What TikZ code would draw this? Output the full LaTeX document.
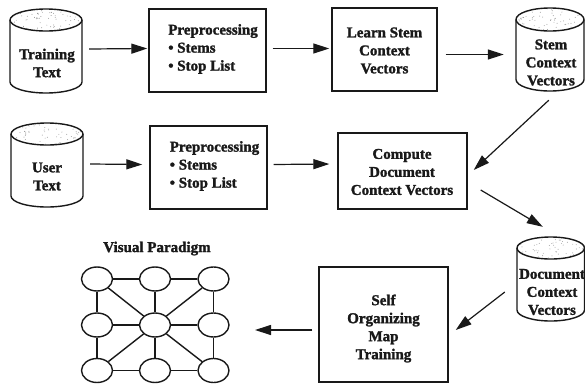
\documentclass[tikz,border=0pt]{standalone}
\usepackage{fontspec}
\setmainfont[BoldFeatures={FakeBold=1.6}]{Liberation Serif}
\usetikzlibrary{arrows.meta,shapes.geometric}
\tikzset{
  x=1pt,y=-1pt,
  outline/.style={draw=black!90,line width=1.4pt},
  boxnode/.style={outline,rectangle,inner sep=0pt,fill=white},
  txt/.style={font=\fontsize{15}{18}\bfseries\selectfont,align=center,inner sep=0pt,text=black!90},
  txtl/.style={txt,align=left},
  cylarea/.style={rectangle,inner sep=0pt,draw=none},
  arr/.style={draw=black!90,line width=1.2pt,-{Triangle[length=16pt,width=10pt]}},
  gridnode/.style={outline,ellipse,minimum width=31pt,minimum height=24pt,inner sep=0pt,fill=white},
  gridedge/.style={draw=black!90,line width=1.4pt}
}
% #1 left, #2 right, #3 top-ellipse top, #4 top-ellipse bottom, #5 bottom, #6 name
\newcommand{\cylshape}[6]{%
  \pgfmathsetmacro{\cx}{(#1+#2)/2}\pgfmathsetmacro{\rx}{(#2-#1)/2}
  \pgfmathsetmacro{\ry}{(#4-#3)/2}\pgfmathsetmacro{\cy}{(#3+#4)/2}
  \pgfmathsetmacro{\by}{#5-\ry}
  \draw[outline] (#1,\cy) -- (#1,\by) arc[start angle=180,end angle=360,x radius=\rx pt,y radius=\ry pt] -- (#2,\cy);
  \begin{scope}
    \clip (\cx,\cy) ellipse[x radius=\rx pt,y radius=\ry pt];
    \foreach \i in {1,...,70}{
      \pgfmathsetmacro{\px}{#1+rnd*(#2-#1)}
      \pgfmathsetmacro{\py}{#3+rnd*(#4-#3)}
      \fill[black!45] (\px,\py) circle[radius=0.45pt];
    }
  \end{scope}
  \draw[outline] (\cx,\cy) ellipse[x radius=\rx pt,y radius=\ry pt];
  \pgfmathsetmacro{\nw}{#2-#1}\pgfmathsetmacro{\nh}{#5-#3}\pgfmathsetmacro{\ny}{(#3+#5)/2}
  \node[cylarea,minimum width=\nw pt,minimum height=\nh pt] (#6) at (\cx,\ny) {};
}
\begin{document}
\begin{tikzpicture}
\pgfmathsetseed{42}
\useasboundingbox (0,0) rectangle (585,383);
\fill[white] (0,0) rectangle (585,383);

\cylshape{10}{82}{9}{31}{93}{train}
\cylshape{11}{83}{123}{145}{207}{user}
\cylshape{516}{584}{8}{31}{91}{stem}
\cylshape{517}{584.5}{237}{259}{321}{doc}

\node[txt] (traint) at (47,63) {Training\\Text};
\node[txt] (usert) at (47,176.500) {User\\Text};
\node[txt] (stemt) at (551,62.500) {Stem\\Context\\Vectors};
\node[txt] (doct) at (552,292) {Document\\Context\\Vectors};

\node[boxnode,minimum width=117pt,minimum height=83pt] (p1) at (207.5,50.5) {};
\node[boxnode,minimum width=117pt,minimum height=83pt] (p2) at (208.5,167.5) {};
\node[boxnode,minimum width=105pt,minimum height=83pt] (learn) at (384.5,49.5) {};
\node[boxnode,minimum width=129pt,minimum height=76pt] (comp) at (402.5,171) {};
\node[boxnode,minimum width=129pt,minimum height=115pt] (som) at (383.5,324.5) {};

\node[txtl] (p1t) at ([xshift=5.5pt,yshift=1.5pt]p1.center) {Preprocessing\\• Stems\\• Stop List};
\node[txtl] (p2t) at ([xshift=6pt,yshift=1.5pt]p2.center) {Preprocessing\\• Stems\\• Stop List};
\node[txt] (learnt) at ([yshift=-1pt]learn.center) {Learn Stem\\Context\\Vectors};
\node[txt] (compt) at ([xshift=-0.5pt,yshift=-1pt]comp.center) {Compute\\Document\\Context Vectors};
\node[txt] (somt) at ([yshift=-4pt]som.center) {Self\\Organizing\\Map\\Training};

\draw[arr] ([shift={(7,-2)}]train.east) -- ([shift={(-1,-2)}]p1.west);
\draw[arr] ([shift={(7,-1)}]user.east) -- ([shift={(-7,-3)}]p2.west);
\draw[arr] ([shift={(6,-2)}]p1.east) -- ([shift={(-2,-1)}]learn.west);
\draw[arr] ([shift={(6,-3)}]p2.east) -- ([shift={(-8,-7)}]comp.west);
\draw[arr] ([shift={(8,5)}]learn.east) -- ([shift={(-12,5)}]stem.west);
\draw[arr] ([shift={(33,9)}]stem.south west) -- ([shift={(6,-1)}]comp.east);
\draw[arr] ([shift={(13,19)}]comp.east) -- ([shift={(26,-10)}]doc.north west);
\draw[arr] ([shift={(-12,13)}]doc.west) -- ([shift={(7,5.5)}]som.east);
\coordinate (leftend) at (255,330);
\draw[arr] ([shift={(-6,5.5)}]som.west) -- (leftend);

\node[txt] (vp) at (157,248.5) {Visual Paradigm};

\node[gridnode] (g11) at (97,279) {};
\node[gridnode] (g12) at (155,279) {};
\node[gridnode] (g13) at (213.500,279) {};
\node[gridnode] (g21) at (97,325) {};
\node[gridnode] (g22) at (155,325) {};
\node[gridnode] (g23) at (213.500,325) {};
\node[gridnode] (g31) at (97,370.500) {};
\node[gridnode] (g32) at (155,370.500) {};
\node[gridnode] (g33) at (213.500,370.500) {};
\foreach \a/\b in {g11/g12,g12/g13,g21/g22,g22/g23,g31/g32,g32/g33,
  g11/g21,g21/g31,g12/g22,g22/g32,g13/g23,g23/g33,
  g11/g22,g13/g22,g31/g22,g33/g22}
  \draw[gridedge] (\a) -- (\b);
\end{tikzpicture}
\end{document}
